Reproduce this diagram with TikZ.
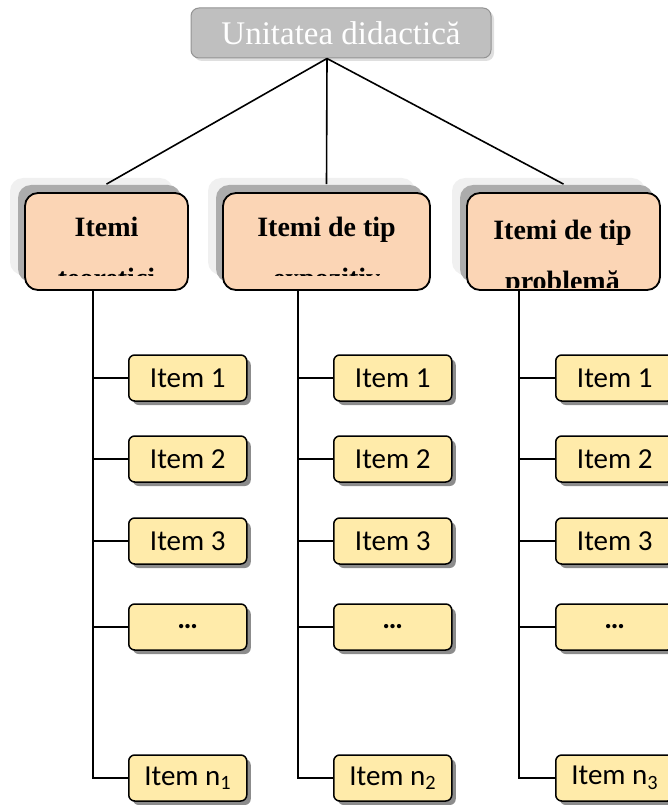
\documentclass[tikz,border=0pt]{standalone}
\usepackage{fontspec}
\setmainfont{Liberation Serif}
\newfontfamily\itemfont{Carlito}
\usepackage{tikz}
\usetikzlibrary{positioning, shadows}
\definecolor{Colgris}{RGB}{191,191,191}
\definecolor{Colpiel}{RGB}{251,213,181}
\definecolor{Colitem}{RGB}{255,235,170}

\begin{document}
\begin{tikzpicture}[x=1pt, y=-1pt,
  ud/.style={rectangle, rounded corners=8pt, draw=gray!85, line width=1pt,
    fill=Colgris, minimum width=300pt, minimum height=50pt, text=white,
    font=\fontsize{33}{38}\selectfont,
    general shadow={shadow xshift=3pt, shadow yshift=-3pt, fill=gray!25}},
  cat/.style={rectangle, rounded corners=13pt, draw=black, line width=1.8pt,
    fill=Colpiel, minimum height=97pt,
    general shadow={shadow xshift=-15pt, shadow yshift=15pt, fill=gray!12},
    general shadow={shadow xshift=-7pt, shadow yshift=8pt, fill=gray!65}},
  ct/.style={inner sep=0pt, anchor=base, font=\fontsize{28}{32}\selectfont\bfseries},
  itm/.style={rectangle, rounded corners=6pt, draw=black, line width=1.5pt,
    fill=Colitem, minimum width=118pt, minimum height=46pt, anchor=west,
    font=\itemfont\fontsize{29}{34}\selectfont,
    general shadow={shadow xshift=4pt, shadow yshift=-4pt, fill=gray!90}},
  lin/.style={black, line width=1.6pt}
]
\useasboundingbox (0,0) rectangle (668,805);

%% ── Unitatea (top) ───────────────────────────────────────────────────
\node[ud] (U) at (341,33) {Unitatea didactică\hspace{18pt}};

%% ── Categorii de itemi ───────────────────────────────────────────────
\node[cat, minimum width=163pt] (C1) at (106.5,241.5) {};
\node[cat, minimum width=207pt] (C2) at (326.5,241.5) {};
\node[cat, minimum width=193pt] (C3) at (563.5,241.5) {};

\node[ct] (T1a) at (106.5,236) {Itemi};
\node[ct] (T2a) at (326.5,236) {Itemi de tip};
\node[ct] (T3a) at (562.5,239) {Itemi de tip};

\begin{scope}
  \clip (C1.north west) rectangle ([yshift=15pt]C1.south east);
  \node[ct] (T1b) at (106.5,287) {teoretici};
\end{scope}
\begin{scope}
  \clip (C2.north west) rectangle ([yshift=15pt]C2.south east);
  \node[ct] (T2b) at (326.5,287) {expozitiv};
\end{scope}
\begin{scope}
  \clip (C3.north west) rectangle ([yshift=3pt]C3.south east);
  \node[ct] (T3b) at (562.5,290) {problemă};
\end{scope}

\draw[lin] ([xshift=-14pt]U.south) -- ([yshift=8pt]C1.north);
\draw[lin] ([xshift=-14pt]U.south) -- ([yshift=8pt]C2.north);
\draw[lin] ([xshift=-14pt]U.south) -- ([yshift=8pt]C3.north);

%% ── Itemi, coloana 1 ─────────────────────────────────────────────────
\node[itm] (I11) at (128,378) {Item 1};
\node[itm] (I12) at (128,459) {Item 2};
\node[itm] (I13) at (128,541) {Item 3};
\node[itm] (I14) at (128,627) {\textbf{…}};
\node[itm] (I1n) at (128,778) {Item n\textsubscript{1}};

%% ── Itemi, coloana 2 ─────────────────────────────────────────────────
\node[itm] (I21) at (333,378) {Item 1};
\node[itm] (I22) at (333,459) {Item 2};
\node[itm] (I23) at (333,541) {Item 3};
\node[itm] (I24) at (333,627) {\textbf{…}};
\node[itm] (I2n) at (333,778) {Item n\textsubscript{2}};

%% ── Itemi, coloana 3 ─────────────────────────────────────────────────
\node[itm] (I31) at (555,378) {Item 1};
\node[itm] (I32) at (555,459) {Item 2};
\node[itm] (I33) at (555,541) {Item 3};
\node[itm] (I34) at (555,627) {\textbf{…}};
\node[itm] (I3n) at (555,778) {Item n\textsubscript{3}};

%% ── Trunchiuri si ramificatii ────────────────────────────────────────
\coordinate (K1) at (93,290);
\coordinate (K2) at (298,290);
\coordinate (K3) at (519,290);

\draw[lin] (K1) |- (I1n.west);
\draw[lin] (K1 |- I11.west) -- (I11.west);
\draw[lin] (K1 |- I12.west) -- (I12.west);
\draw[lin] (K1 |- I13.west) -- (I13.west);
\draw[lin] (K1 |- I14.west) -- (I14.west);

\draw[lin] (K2) |- (I2n.west);
\draw[lin] (K2 |- I21.west) -- (I21.west);
\draw[lin] (K2 |- I22.west) -- (I22.west);
\draw[lin] (K2 |- I23.west) -- (I23.west);
\draw[lin] (K2 |- I24.west) -- (I24.west);

\draw[lin] (K3) |- (I3n.west);
\draw[lin] (K3 |- I31.west) -- (I31.west);
\draw[lin] (K3 |- I32.west) -- (I32.west);
\draw[lin] (K3 |- I33.west) -- (I33.west);
\draw[lin] (K3 |- I34.west) -- (I34.west);

\end{tikzpicture}
\end{document}
